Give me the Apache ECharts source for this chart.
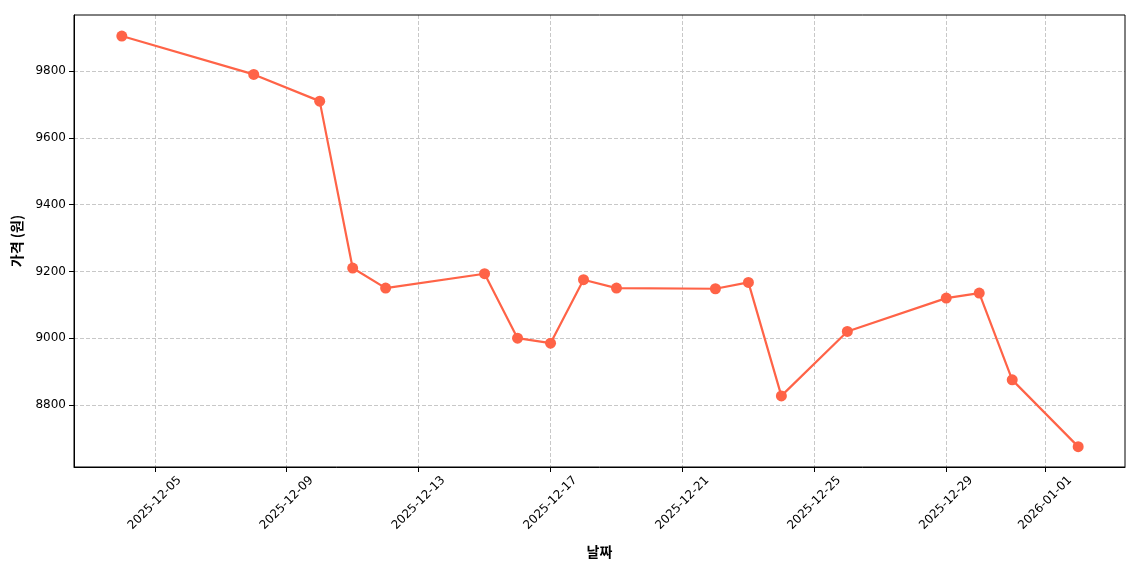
<!DOCTYPE html>
<html><head><meta charset="utf-8">
<script src="https://cdn.jsdelivr.net/npm/echarts@6/dist/echarts.min.js"></script>
<style>html,body{margin:0;padding:0;background:#fff}#c{width:1140px;height:570px}</style>
</head><body><div id="c"></div>
<script>
// day offsets from 2025-12-01
const dates = ['2025-12-04','2025-12-08','2025-12-10','2025-12-11','2025-12-12','2025-12-15','2025-12-16','2025-12-17','2025-12-18','2025-12-19','2025-12-22','2025-12-23','2025-12-24','2025-12-26','2025-12-29','2025-12-30','2025-12-31','2026-01-02'];
const prices = [9905,9790,9710,9210,9150,9193,9000,8985,9175,9150,9148,9167,8827,9020,9120,9135,8875,8675];
const tickDates = ['2025-12-05','2025-12-09','2025-12-13','2025-12-17','2025-12-21','2025-12-25','2025-12-29','2026-01-01'];
const yTicks = [8800,9000,9200,9400,9600,9800];
const base = Date.UTC(2025,11,1);
const toDay = s => (Date.parse(s+'T00:00:00Z') - base)/86400000;
const tickVals = tickDates.map(toDay);
const labelMap = {}; tickDates.forEach((d,i)=>labelMap[tickVals[i]]=d);
const font = 'DejaVu Sans, sans-serif';
const chart = echarts.init(document.getElementById('c'));
chart.setOption({
  animation:false,
  grid:{left:74,right:15,top:15,bottom:103},
  xAxis:{type:'value',min:1.55,max:33.42,name:'날짜',nameLocation:'middle',nameGap:78,
    nameTextStyle:{fontSize:14,fontWeight:'bold',color:'#000',fontFamily:'Noto Sans CJK KR'},
    axisLine:{show:true,lineStyle:{color:'#000'}},
    axisTick:{show:true,customValues:tickVals,lineStyle:{color:'#000'}},
    axisLabel:{customValues:tickVals,rotate:45,align:'center',verticalAlign:'middle',margin:36,fontSize:12,color:'#000',fontFamily:font,formatter:v=>labelMap[v]||''},
    splitLine:{show:true,lineStyle:{type:'dashed',color:'#c8c8c8'}}},
  yAxis:{type:'value',min:8614,max:9968,name:'가격 (원)',nameLocation:'middle',nameGap:50,
    nameTextStyle:{fontSize:14,fontWeight:'bold',color:'#000',fontFamily:'Noto Sans CJK KR'},
    axisLine:{show:true,lineStyle:{color:'#000'}},
    axisTick:{show:true,customValues:yTicks,lineStyle:{color:'#000'}},
    axisLabel:{customValues:yTicks,fontSize:12,color:'#000',fontFamily:font,formatter:v=>String(v)},
    splitLine:{show:true,lineStyle:{type:'dashed',color:'#c8c8c8'}}},
  series:[{type:'line',data:dates.map((d,i)=>[toDay(d),prices[i]]),
    symbol:'circle',symbolSize:11,
    lineStyle:{color:'#FF6347',width:2.2},itemStyle:{color:'#FF6347'}}]
});
chart.getZr().add(new echarts.graphic.Rect({shape:{x:74,y:15,width:1051,height:452},style:{fill:'none',stroke:'#000',lineWidth:1},z:100}));
</script></body></html>
